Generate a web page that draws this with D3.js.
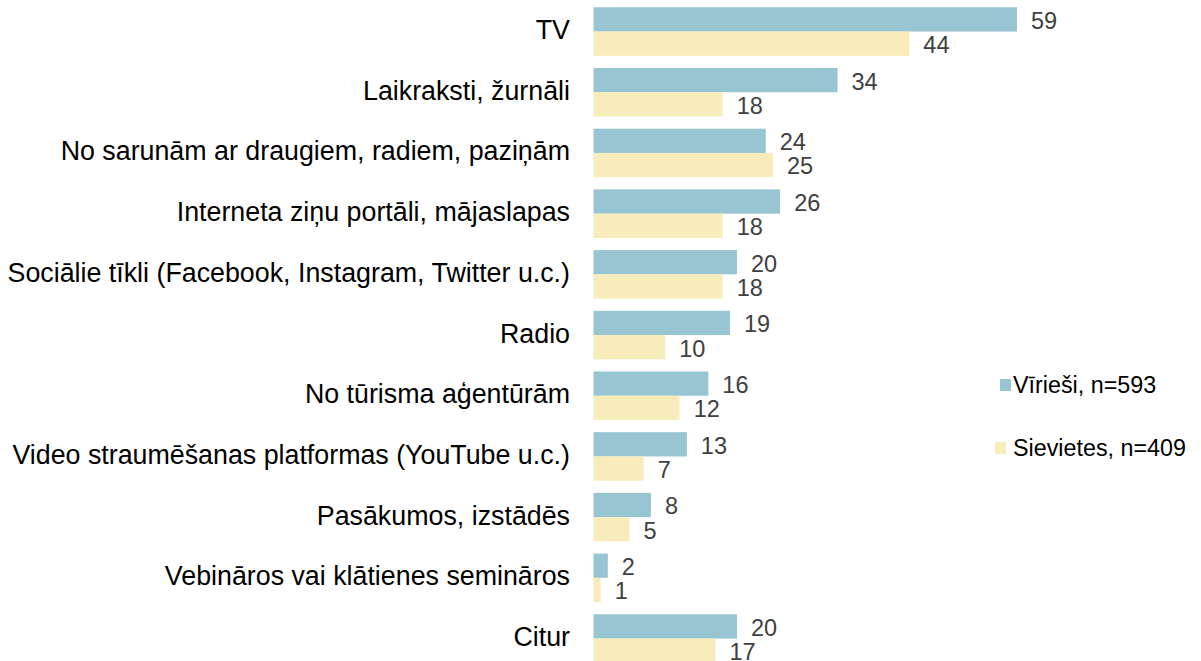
<!DOCTYPE html>
<html>
<head>
<meta charset="utf-8">
<script src="https://cdn.jsdelivr.net/npm/d3@7"></script>
<style>
  html, body { margin: 0; padding: 0; background: #fff; }
  svg { display: block; font-family: "Liberation Sans", Arial, sans-serif; }
</style>
</head>
<body>
<svg id="chart" width="1201" height="661"></svg>
<script>
// Information sources, share of respondents (%) by gender
const categories = [
  "TV",
  "Laikraksti, žurnāli",
  "No sarunām ar draugiem, radiem, paziņām",
  "Interneta ziņu portāli, mājaslapas",
  "Sociālie tīkli (Facebook, Instagram, Twitter u.c.)",
  "Radio",
  "No tūrisma aģentūrām",
  "Video straumēšanas platformas (YouTube u.c.)",
  "Pasākumos, izstādēs",
  "Vebināros vai klātienes semināros",
  "Citur"
];
const men   = [59, 34, 24, 26, 20, 19, 16, 13, 8, 2, 20];
const women = [44, 18, 25, 18, 18, 10, 12, 7, 5, 1, 17];
const seriesNames = ["Vīrieši, n=593", "Sievietes, n=409"];
const seriesColors = ["#98c5d2", "#f9ecbb"];

const svg = d3.select("#chart");

const x = d3.scaleLinear().domain([0, 59]).range([593.5, 1017]);
const y = d3.scaleBand().domain(categories).range([1.2, 668.9])
  .paddingInner(0.2).paddingOuter(0.1);
const sub = d3.scaleBand().domain([0, 1]).range([0, y.bandwidth()]);

const rows = svg.append("g").selectAll("g")
  .data(categories)
  .join("g")
  .attr("transform", d => `translate(0,${y(d)})`);

[men, women].forEach((vals, s) => {
  rows.append("rect")
    .attr("x", x(0))
    .attr("y", sub(s))
    .attr("width", (d, i) => x(vals[i]) - x(0))
    .attr("height", sub.bandwidth())
    .attr("fill", seriesColors[s]);
  rows.append("text")
    .attr("x", (d, i) => x(vals[i]) + 14)
    .attr("y", sub(s) + sub.bandwidth() / 2)
    .attr("dy", "0.4em")
    .attr("font-size", 23.5)
    .attr("fill", "#404040")
    .text((d, i) => vals[i]);
});

// Category labels
rows.append("text")
  .attr("x", 570)
  .attr("y", y.bandwidth() / 2)
  .attr("dy", "0.28em")
  .attr("text-anchor", "end")
  .attr("font-size", 26.8)
  .attr("fill", "#000")
  .text(d => d);

// Legend
const legend = svg.append("g").selectAll("g")
  .data(seriesNames)
  .join("g")
  .attr("transform", (d, i) => `translate(1013,${385 + i * 63})`);
legend.append("rect")
  .attr("x", (d, i) => i === 0 ? -13 : -18).attr("y", -6)
  .attr("width", 11).attr("height", 12)
  .attr("fill", (d, i) => seriesColors[i]);
legend.append("text")
  .attr("x", 0).attr("y", 0)
  .attr("dy", "0.34em")
  .attr("font-size", 23.3)
  .attr("fill", "#000")
  .text(d => d);
</script>
</body>
</html>
